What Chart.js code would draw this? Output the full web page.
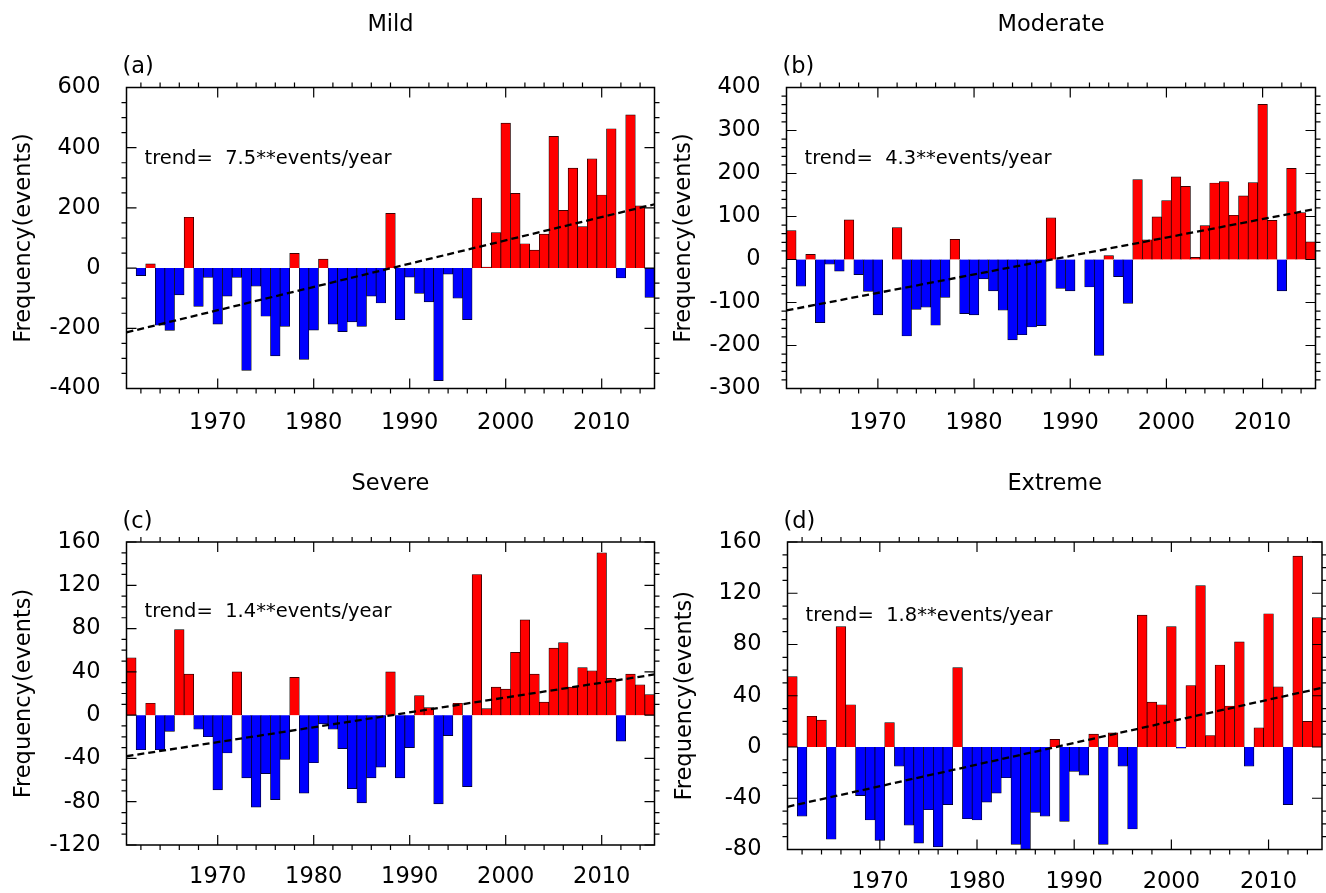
<!DOCTYPE html>
<html>
<head>
<meta charset="utf-8">
<script src="https://cdn.jsdelivr.net/npm/chart.js@4.4.0/dist/chart.umd.min.js"></script>
<style>
  html, body { margin: 0; padding: 0; background: #fff; }
  body { width: 1326px; height: 893px; position: relative; overflow: hidden; }
  canvas { position: absolute; }
</style>
</head>
<body>
<canvas id="panelA"></canvas>
<canvas id="panelB"></canvas>
<canvas id="panelC"></canvas>
<canvas id="panelD"></canvas>
<script>
// years 1961-2015, one bar each
const years = Array.from({ length: 55 }, (_, i) => 1961 + i);
const xTickLabels = [1970, 1980, 1990, 2000, 2010];

const mild = [
    0, -25, 14, -190, -207, -89, 169, -127, -31, -186,
    -93, -31, -340, -60, -160, -292, -194, 49, -303, -206,
    30, -186, -211, -179, -194, -93, -116, 182, -171, -30,
    -84, -112, -374, -20, -100, -171, 233, 3, 118, 482,
    248, 81, 60, 113, 438, 192, 332, 138, 363, 243,
    463, -33, 509, 207, -97
];
const moderate = [
    67, -62, 12, -147, -11, -27, 92, -35, -74, -129,
    0, 74, -178, -116, -111, -153, -88, 47, -126, -129,
    -45, -73, -118, -187, -175, -157, -154, 97, -67, -73,
    0, -64, -223, 9, -40, -102, 186, 46, 99, 137,
    192, 170, 5, 79, 178, 181, 103, 148, 179, 361,
    91, -73, 212, 109, 41
];
const severe = [
    53, -32, 11, -32, -15, 79, 38, -13, -20, -69,
    -35, 40, -58, -85, -54, -78, -41, 35, -72, -44,
    -8, -13, -31, -68, -81, -58, -48, 40, -58, -30,
    18, 7, -82, -19, 11, -66, 130, 6, 26, 24,
    58, 88, 38, 12, 62, 67, 26, 44, 41, 150,
    34, -24, 38, 28, 19
];
const extreme = [
    55, -54, 24, 21, -72, 94, 33, -38, -57, -73,
    19, -15, -61, -75, -49, -78, -45, 62, -56, -57,
    -43, -36, -24, -76, -80, -51, -54, 6, -58, -19,
    -22, 10, -76, 11, -15, -64, 103, 35, 33, 94,
    -1, 48, 126, 9, 64, 32, 82, -15, 15, 104,
    47, -45, 149, 20, 101
];

const mildTicks = [-400, -200, 0, 200, 400, 600];
const moderateTicks = [-300, -200, -100, 0, 100, 200, 300, 400];
const severeTicks = [-120, -80, -40, 0, 40, 80, 120, 160];
const extremeTicks = [-80, -40, 0, 40, 80, 120, 160];

const FONT = '"DejaVu Sans", "Liberation Sans", Arial, sans-serif';

// least squares fit over the years, drawn from edge to edge of the plot
function trendLine(values) {
    const n = years.length;
    const mx = years.reduce((s, v) => s + v, 0) / n;
    const my = values.reduce((s, v) => s + v, 0) / n;
    let sxy = 0, sxx = 0;
    years.forEach((yr, i) => {
        sxy += (yr - mx) * (values[i] - my);
        sxx += (yr - mx) * (yr - mx);
    });
    const slope = sxy / sxx;
    return [years[0] - 0.5, years[n - 1] + 0.5].map(x => ({ x, y: my + slope * (x - mx) }));
}

// frame, ncl-like ticks (major inward, minor outward) and the panel texts
const panelFrame = {
    id: 'panelFrame',
    afterDatasetsDraw(chart, args, opts) {
        const { ctx, chartArea: a } = chart;
        const x = chart.scales.x, y = chart.scales.y;
        ctx.save();
        ctx.strokeStyle = '#000';
        ctx.lineWidth = 1.5;
        ctx.strokeRect(a.left, a.top, a.right - a.left, a.bottom - a.top);

        ctx.lineWidth = 1.2;
        ctx.beginPath();
        years.forEach(yr => {
            if (yr % 2) return;
            const px = x.getPixelForValue(yr);
            if (xTickLabels.includes(yr)) {
                ctx.moveTo(px, a.bottom); ctx.lineTo(px, a.bottom - 10);
                ctx.moveTo(px, a.top); ctx.lineTo(px, a.top + 10);
            } else {
                ctx.moveTo(px, a.bottom); ctx.lineTo(px, a.bottom + 5);
                ctx.moveTo(px, a.top); ctx.lineTo(px, a.top - 5);
            }
        });
        const ticks = opts.yTicks;
        const lo = ticks[0], hi = ticks[ticks.length - 1];
        for (let v = lo; v <= hi; v += opts.minorStep) {
            const py = y.getPixelForValue(v);
            if (ticks.includes(v)) {
                ctx.moveTo(a.left, py); ctx.lineTo(a.left + 10, py);
                ctx.moveTo(a.right, py); ctx.lineTo(a.right - 10, py);
            } else {
                ctx.moveTo(a.left, py); ctx.lineTo(a.left - 5, py);
                ctx.moveTo(a.right, py); ctx.lineTo(a.right + 5, py);
            }
        }
        ctx.stroke();

        ctx.fillStyle = '#000';
        ctx.textBaseline = 'middle';
        ctx.textAlign = 'center';
        ctx.font = `22.5px ${FONT}`;
        ctx.fillText(opts.title, (a.left + a.right) / 2, a.top + opts.titleDy);

        ctx.textAlign = 'left';
        ctx.font = `22.5px ${FONT}`;
        ctx.fillText(opts.letter, a.left - 4, a.top - 20);

        ctx.font = `19.5px ${FONT}`;
        ctx.fillText(opts.trend, a.left + 18, a.top + opts.trendDy);

        ctx.translate(a.left - 102, (a.top + a.bottom) / 2);
        ctx.rotate(-Math.PI / 2);
        ctx.textAlign = 'center';
        ctx.font = `22.5px ${FONT}`;
        ctx.fillText('Frequency(events)', 0, 0);
        ctx.restore();
    }
};

function makePanel(id, p) {
    const canvas = document.getElementById(id);
    canvas.width = p.box.w;
    canvas.height = p.box.h;
    canvas.style.left = p.box.x + 'px';
    canvas.style.top = p.box.y + 'px';
    canvas.style.width = p.box.w + 'px';
    canvas.style.height = p.box.h + 'px';

    return new Chart(canvas, {
        type: 'bar',
        data: {
            datasets: [
                {
                    type: 'line',
                    data: trendLine(p.values),
                    borderColor: '#000',
                    borderWidth: 2.3,
                    borderDash: [7, 4],
                    pointRadius: 0,
                    fill: false,
                    order: 0
                },
                {
                    type: 'bar',
                    data: years.map((yr, i) => ({ x: yr, y: p.values[i] })),
                    backgroundColor: p.values.map(v => v >= 0 ? '#ff0000' : '#0000ff'),
                    borderColor: '#000',
                    borderWidth: 0.7,
                    barPercentage: 1,
                    categoryPercentage: 1,
                    order: 1
                }
            ]
        },
        options: {
            responsive: false,
            animation: false,
            devicePixelRatio: 1,
            layout: {
                padding: {
                    left: 0,
                    top: p.plot.t - p.box.y,
                    right: p.box.x + p.box.w - p.plot.r,
                    bottom: 0
                }
            },
            plugins: {
                legend: { display: false },
                tooltip: { enabled: false },
                panelFrame: {
                    title: p.title,
                    titleDy: p.titleDy,
                    letter: p.letter,
                    trend: p.trend,
                    trendDy: p.trendDy,
                    yTicks: p.yTicks,
                    minorStep: p.minorStep
                }
            },
            scales: {
                x: {
                    type: 'linear',
                    min: years[0] - 0.5,
                    max: years[years.length - 1] + 0.5,
                    offset: false,
                    grid: { display: false, drawTicks: false },
                    border: { display: false },
                    afterBuildTicks: s => { s.ticks = xTickLabels.map(v => ({ value: v })); },
                    afterFit: s => { s.height = p.box.y + p.box.h - p.plot.b; },
                    ticks: {
                        font: { family: FONT, size: 22.5 },
                        color: '#000',
                        padding: p.xPad,
                        maxRotation: 0,
                        autoSkip: false,
                        callback: v => String(v)
                    }
                },
                y: {
                    min: p.yTicks[0],
                    max: p.yTicks[p.yTicks.length - 1],
                    grid: { display: false, drawTicks: false },
                    border: { display: false },
                    afterBuildTicks: s => { s.ticks = p.yTicks.map(v => ({ value: v })); },
                    afterFit: s => { s.width = p.plot.l - p.box.x; },
                    ticks: {
                        font: { family: FONT, size: 22.5 },
                        color: '#000',
                        padding: 26,
                        callback: v => String(v)
                    }
                }
            }
        },
        plugins: [panelFrame]
    });
}

makePanel('panelA', {
    box: { x: 0, y: 0, w: 663, h: 446 },
    plot: { l: 126.5, t: 87.5, r: 654.5, b: 388.5 },
    values: mild, yTicks: mildTicks, minorStep: 50, xPad: 21,
    title: 'Mild', titleDy: -62, letter: '(a)', trend: 'trend=  7.5**events/year', trendDy: 71
});
makePanel('panelB', {
    box: { x: 663, y: 0, w: 663, h: 446 },
    plot: { l: 786.5, t: 87.5, r: 1315.5, b: 388.5 },
    values: moderate, yTicks: moderateTicks, minorStep: 20, xPad: 21,
    title: 'Moderate', titleDy: -62, letter: '(b)', trend: 'trend=  4.3**events/year', trendDy: 71
});
makePanel('panelC', {
    box: { x: 0, y: 446, w: 663, h: 447 },
    plot: { l: 126.5, t: 542, r: 654.5, b: 845 },
    values: severe, yTicks: severeTicks, minorStep: 10, xPad: 19,
    title: 'Severe', titleDy: -58, letter: '(c)', trend: 'trend=  1.4**events/year', trendDy: 70
});
makePanel('panelD', {
    box: { x: 663, y: 446, w: 663, h: 447 },
    plot: { l: 787.5, t: 542, r: 1322, b: 849.5 },
    values: extreme, yTicks: extremeTicks, minorStep: 10, xPad: 19,
    title: 'Extreme', titleDy: -58, letter: '(d)', trend: 'trend=  1.8**events/year', trendDy: 74
});
</script>
</body>
</html>
